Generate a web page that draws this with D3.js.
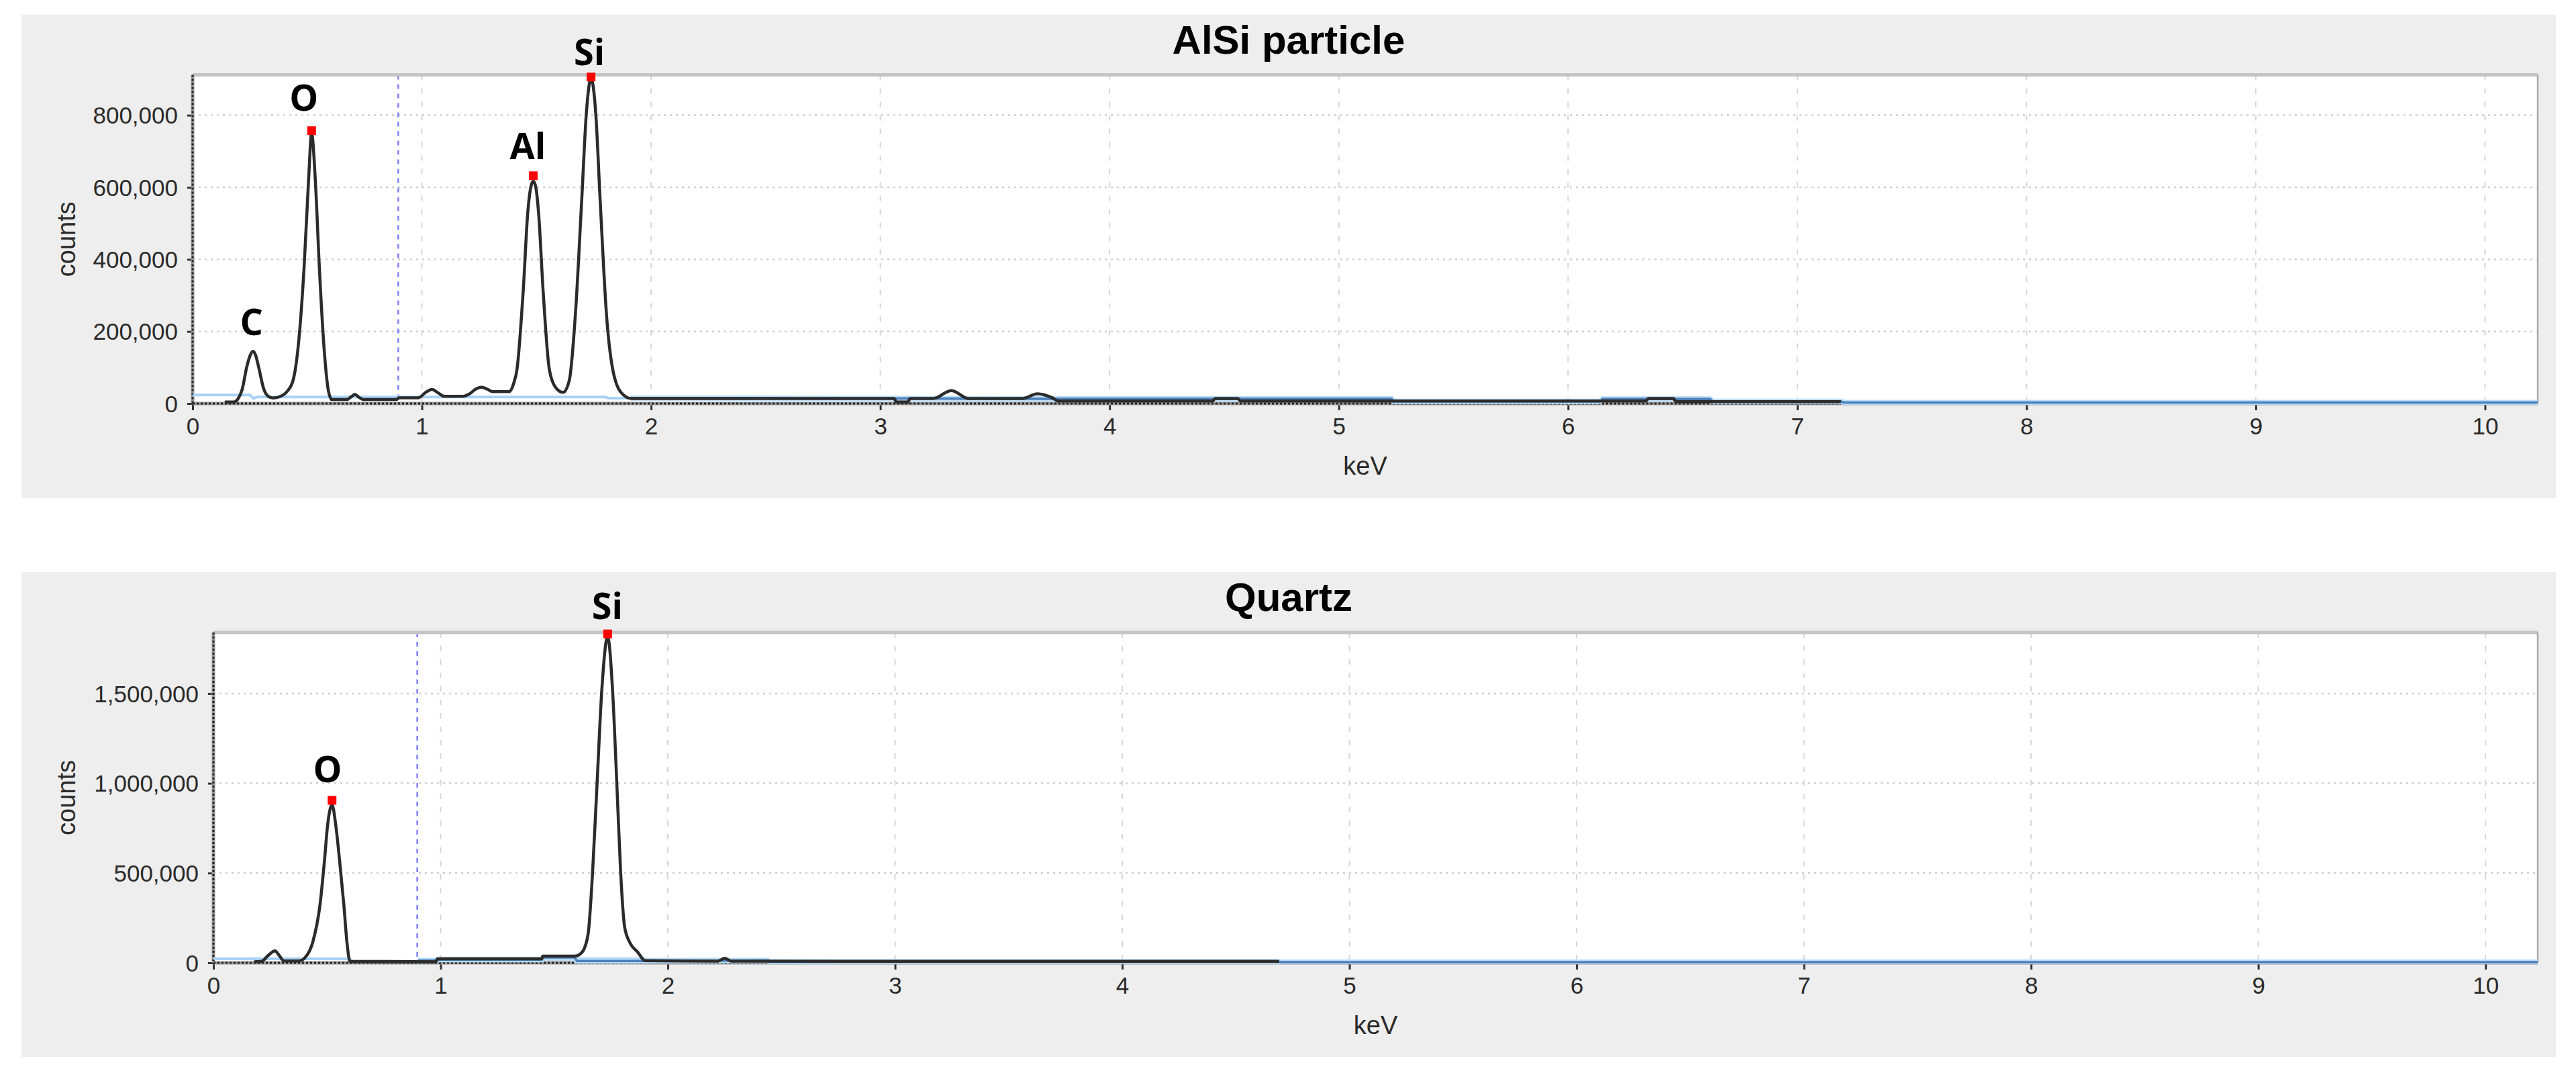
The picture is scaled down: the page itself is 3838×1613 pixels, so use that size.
<!DOCTYPE html>
<html>
<head>
<meta charset="utf-8">
<script src="https://cdn.jsdelivr.net/npm/d3@7"></script>
<style>
  html, body { margin: 0; padding: 0; background: #ffffff; }
  svg { display: block; }
</style>
</head>
<body>
<script>
// ---------------- DATA ----------------
const energyTicks = [0, 1, 2, 3, 4, 5, 6, 7, 8, 9, 10];
const energyMax = 10.23;
const markerLineKeV = 0.897;

// Panel 1: AlSi particle
const alsiTitle = "AlSi particle";
const alsiYMax = 912000;
const alsiYTicks = [0, 200000, 400000, 600000, 800000];
const alsiSpectrum = [
  [0.14, 4000], [0.18, 4000], [0.20, 15000], [0.216, 39000], [0.236, 101000], [0.25, 132000],
  [0.263, 145000], [0.276, 132000], [0.288, 101000], [0.311, 39000], [0.33, 20000], [0.351, 15500],
  [0.384, 20000], [0.41, 32000], [0.438, 64000], [0.465, 188000], [0.486, 375000], [0.506, 623000],
  [0.519, 750000], [0.535, 623000], [0.553, 375000], [0.573, 157000], [0.593, 33000], [0.607, 11000],
  [0.674, 11000], [0.69, 18000], [0.708, 25000], [0.726, 17000], [0.748, 11000], [0.89, 11000],
  [0.90, 16000], [0.985, 16000], [1.015, 30000], [1.044, 39000], [1.07, 30000], [1.098, 20000],
  [1.179, 20000], [1.206, 26000], [1.235, 40000], [1.26, 45000], [1.285, 40000], [1.307, 33000],
  [1.381, 33000], [1.40, 55000], [1.415, 95000], [1.442, 312000], [1.462, 530000], [1.475, 600000],
  [1.486, 617000], [1.497, 600000], [1.509, 530000], [1.529, 312000], [1.556, 95000], [1.583, 45000],
  [1.616, 31000], [1.643, 64000], [1.67, 250000], [1.697, 561000], [1.718, 810000], [1.738, 902000],
  [1.758, 810000], [1.778, 561000], [1.805, 250000], [1.839, 76000], [1.879, 24000], [1.913, 14000],
  [3.06, 14000], [3.07, 4000], [3.12, 4000], [3.13, 14000], [3.23, 14000], [3.31, 36000],
  [3.385, 14000], [3.62, 14000], [3.685, 27000], [3.75, 16000], [3.777, 7000], [4.45, 7000],
  [4.46, 14000], [4.56, 14000], [4.57, 7000], [6.34, 7000], [6.35, 14000], [6.46, 14000],
  [6.47, 5000], [7.19, 5000]
];
const alsiBackground = [
  [0, 23600], [0.25, 23600], [0.265, 14000], [0.28, 18000], [1.80, 18000], [1.815, 15000], [2.32, 15000]
];
const alsiFit = [
  [1.91, 15000], [3.06, 14000], [3.78, 13000], [5.23, 13000], [5.24, 6000], [6.14, 6000],
  [6.15, 12500], [6.62, 12500], [6.63, 6000], [7.19, 6000], [7.2, 3000], [10.23, 3000]
];
const alsiMarkers = [[0.519, 757000], [1.486, 632000], [1.738, 906000]];
const alsiLabels = [
  { text: "C", keV: 0.257, counts: 190000 },
  { text: "O", keV: 0.485, counts: 813000 },
  { text: "Al", keV: 1.462, counts: 679000 },
  { text: "Si", keV: 1.731, counts: 939000 }
];

// Panel 2: Quartz
const quartzTitle = "Quartz";
const quartzYMax = 1840000;
const quartzYTicks = [0, 500000, 1000000, 1500000];
const quartzSpectrum = [
  [0.179, 6000], [0.212, 8000], [0.24, 40000], [0.271, 66000], [0.29, 40000], [0.311, 10000],
  [0.376, 10000], [0.403, 29000], [0.436, 110000], [0.469, 323000], [0.489, 573000], [0.502, 761000],
  [0.522, 880000], [0.539, 761000], [0.555, 573000], [0.574, 323000], [0.588, 110000], [0.601, 8000],
  [0.98, 6000], [0.985, 22000], [1.445, 22000], [1.45, 37000], [1.59, 37000], [1.623, 60000],
  [1.649, 160000], [1.669, 511000], [1.689, 1012000], [1.709, 1512000], [1.735, 1815000],
  [1.757, 1512000], [1.775, 1012000], [1.792, 511000], [1.81, 198000], [1.834, 110000],
  [1.867, 60000], [1.9, 12000], [2.22, 9000], [2.25, 25000], [2.28, 9000], [4.69, 8000]
];
const quartzBackground = [
  [0, 22000], [0.6, 22000], [0.61, 8000], [0.98, 8000], [0.99, 20000], [1.59, 20000],
  [1.6, 22000], [1.9, 22000], [1.91, 20000], [2.44, 20000]
];
const quartzFit = [
  [0.9, 13000], [0.98, 13000], [0.99, 18000], [1.445, 18000], [1.45, 30000], [1.59, 30000],
  [1.6, 10000], [1.9, 10000], [2.44, 13000], [2.45, 6000], [4.69, 6000], [4.7, 4000], [10.23, 4000]
];
const quartzMarkers = [[0.522, 905000], [1.735, 1832000]];
const quartzLabels = [
  { text: "O", keV: 0.502, counts: 1005000 },
  { text: "Si", keV: 1.734, counts: 1914000 }
];

// ---------------- DRAWING ----------------
const W = 3838, H = 1613;
const svg = d3.select("body").append("svg").attr("width", W).attr("height", H);

const panels = [
  { title: alsiTitle, yMax: alsiYMax, yTicks: alsiYTicks, spectrum: alsiSpectrum,
    background: alsiBackground, fit: alsiFit, markers: alsiMarkers, labels: alsiLabels,
    box: { x: 32, y: 22, w: 3776, h: 720 },
    plot: { left: 287, right: 3781, top: 111.5, bottom: 601 } },
  { title: quartzTitle, yMax: quartzYMax, yTicks: quartzYTicks, spectrum: quartzSpectrum,
    background: quartzBackground, fit: quartzFit, markers: quartzMarkers, labels: quartzLabels,
    box: { x: 32, y: 852, w: 3776, h: 722 },
    plot: { left: 318, right: 3781, top: 942, bottom: 1434 } }
];

const fmt = d3.format(",");
const axisFont = "'Liberation Sans', Arial, sans-serif";

panels.forEach((p, i) => {
  const g = svg.append("g");
  g.append("rect").attr("x", p.box.x).attr("y", p.box.y).attr("width", p.box.w).attr("height", p.box.h)
    .attr("fill", "#eeeeee");

  const x = d3.scaleLinear().domain([0, energyMax]).range([p.plot.left, p.plot.right]);
  const y = d3.scaleLinear().domain([0, p.yMax]).range([p.plot.bottom, p.plot.top]);

  g.append("rect").attr("x", p.plot.left).attr("y", p.plot.top)
    .attr("width", p.plot.right - p.plot.left).attr("height", p.plot.bottom - p.plot.top)
    .attr("fill", "#ffffff");

  const clipId = "clip" + i;
  svg.append("defs").append("clipPath").attr("id", clipId).append("rect")
    .attr("x", p.plot.left).attr("y", p.plot.top - 2)
    .attr("width", p.plot.right - p.plot.left).attr("height", p.plot.bottom - p.plot.top + 4);

  const grid = g.append("g");
  grid.selectAll("line.h").data(p.yTicks.filter(d => d > 0)).join("line")
    .attr("x1", p.plot.left).attr("x2", p.plot.right)
    .attr("y1", d => y(d)).attr("y2", d => y(d))
    .attr("stroke", "#cfcfcf").attr("stroke-width", 2.5).attr("stroke-dasharray", "3,6");
  grid.selectAll("line.v").data(energyTicks.filter(d => d > 0)).join("line")
    .attr("x1", d => x(d)).attr("x2", d => x(d))
    .attr("y1", p.plot.top).attr("y2", p.plot.bottom)
    .attr("stroke", "#d6d6d6").attr("stroke-width", 2).attr("stroke-dasharray", "8,12");

  g.append("line").attr("x1", x(markerLineKeV)).attr("x2", x(markerLineKeV))
    .attr("y1", p.plot.top).attr("y2", p.plot.bottom)
    .attr("stroke", "#7f7fff").attr("stroke-width", 2.5).attr("stroke-dasharray", "7,7");

  const xAxis = d3.axisBottom(x).tickValues(energyTicks).tickSize(10).tickFormat(d3.format("d"));
  const xg = g.append("g").attr("transform", `translate(0,${p.plot.bottom})`).call(xAxis);
  xg.select(".domain").remove();
  xg.selectAll(".tick line").attr("stroke", "#333").attr("stroke-width", 3);
  xg.selectAll(".tick text").attr("y", 46).attr("dy", 0)
    .attr("font-family", axisFont).attr("font-size", 35).attr("fill", "#2a2a2a");

  const yAxis = d3.axisLeft(y).tickValues(p.yTicks).tickSize(8).tickFormat(fmt);
  const yg = g.append("g").attr("transform", `translate(${p.plot.left},0)`).call(yAxis);
  yg.select(".domain").remove();
  yg.selectAll(".tick line").attr("stroke", "#333").attr("stroke-width", 3);
  yg.selectAll(".tick text").attr("x", -22).attr("dy", "0.35em")
    .attr("font-family", axisFont).attr("font-size", 35).attr("fill", "#2a2a2a");

  g.append("line").attr("x1", p.plot.left).attr("x2", p.plot.right)
    .attr("y1", p.plot.top).attr("y2", p.plot.top).attr("stroke", "#c4c4c4").attr("stroke-width", 5);
  g.append("line").attr("x1", p.plot.right).attr("x2", p.plot.right)
    .attr("y1", p.plot.top).attr("y2", p.plot.bottom).attr("stroke", "#a9a9a9").attr("stroke-width", 2.5);
  [["#9a9a9a", 5, null], ["#222", 3, "3,3"]].forEach(([c, w, da]) => {
    g.append("line").attr("x1", p.plot.left).attr("x2", p.plot.right)
      .attr("y1", p.plot.bottom).attr("y2", p.plot.bottom)
      .attr("stroke", c).attr("stroke-width", w).attr("stroke-dasharray", da);
    g.append("line").attr("x1", p.plot.left).attr("x2", p.plot.left)
      .attr("y1", p.plot.top).attr("y2", p.plot.bottom)
      .attr("stroke", c).attr("stroke-width", w).attr("stroke-dasharray", da);
  });

  const lineGen = d3.line().x(d => x(d[0])).y(d => y(d[1]));
  const smooth = d3.line().x(d => x(d[0])).y(d => y(d[1])).curve(d3.curveMonotoneX);
  const layer = g.append("g").attr("clip-path", `url(#${clipId})`);

  layer.append("path").datum(p.background).attr("d", lineGen)
    .attr("fill", "none").attr("stroke", "#a8d2f6").attr("stroke-width", 4);
  layer.append("path").datum(p.fit).attr("d", lineGen)
    .attr("fill", "none").attr("stroke", "#b9ddf8").attr("stroke-width", 8);
  layer.append("path").datum(p.fit).attr("d", lineGen)
    .attr("fill", "none").attr("stroke", "#4f7fb8").attr("stroke-width", 3.5);

  layer.append("path").datum(p.spectrum).attr("d", smooth)
    .attr("fill", "none").attr("stroke", "#2b2b2b").attr("stroke-width", 4.5)
    .attr("stroke-linejoin", "round");

  g.selectAll("rect.mk").data(p.markers).join("rect")
    .attr("x", d => x(d[0]) - 6.5).attr("y", d => y(d[1]) - 6.5)
    .attr("width", 13).attr("height", 13).attr("fill", "#ff0000");

  g.selectAll("text.lbl").data(p.labels).join("text")
    .attr("x", d => x(d.keV)).attr("y", d => y(d.counts))
    .attr("text-anchor", "middle")
    .attr("font-family", "'Open Sans', 'Noto Sans', sans-serif").attr("font-weight", 700)
    .attr("font-size", 54).attr("fill", "#000")
    .text(d => d.text);

  g.append("text").attr("x", p.box.x + p.box.w / 2).attr("y", p.box.y + 58)
    .attr("text-anchor", "middle").attr("font-family", axisFont).attr("font-weight", 700)
    .attr("font-size", 60).attr("fill", "#000").text(p.title);

  g.append("text").attr("x", (p.plot.left + p.plot.right) / 2).attr("y", p.plot.bottom + 106)
    .attr("text-anchor", "middle").attr("font-family", axisFont).attr("font-size", 38)
    .attr("fill", "#2a2a2a").text("keV");
  g.append("text")
    .attr("transform", `translate(112,${(p.plot.top + p.plot.bottom) / 2}) rotate(-90)`)
    .attr("text-anchor", "middle").attr("font-family", axisFont).attr("font-size", 38)
    .attr("fill", "#2a2a2a").text("counts");
});
</script>
</body>
</html>
